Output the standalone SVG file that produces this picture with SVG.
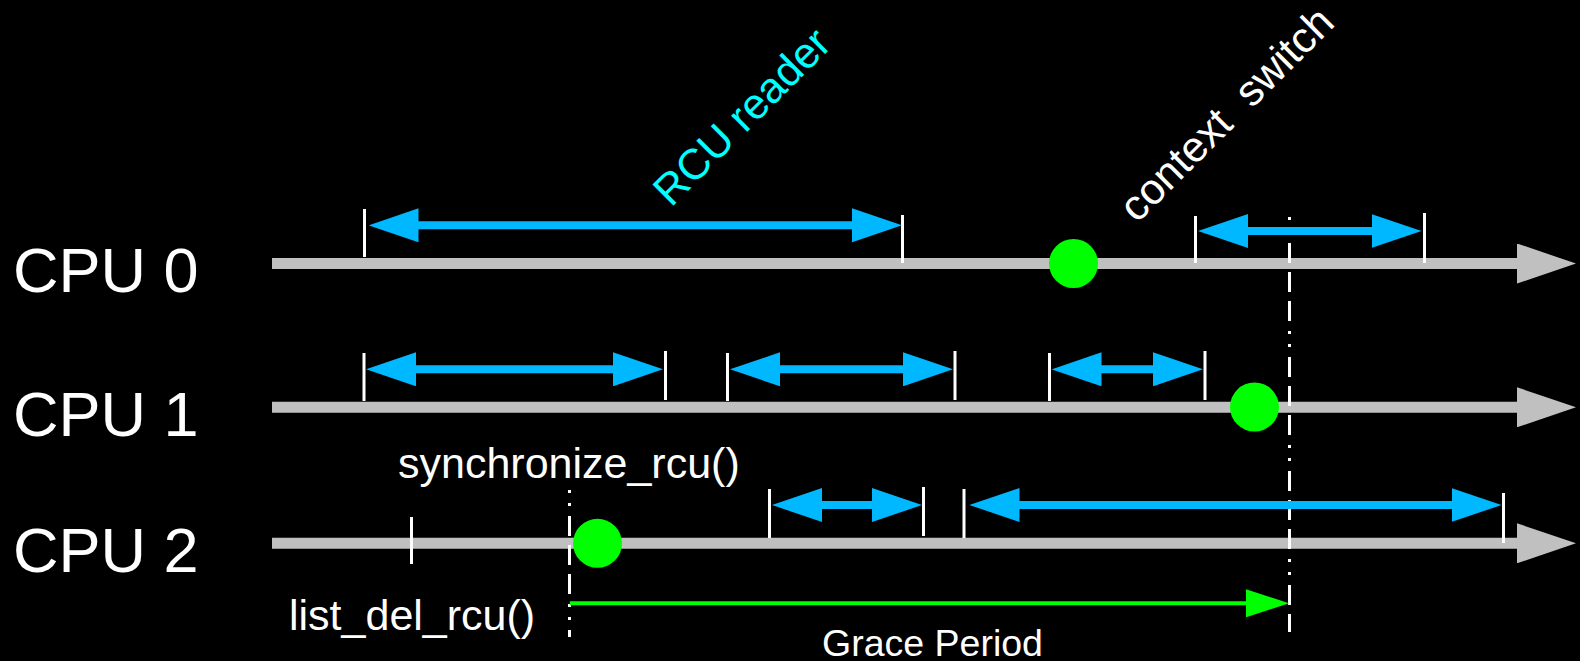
<svg xmlns="http://www.w3.org/2000/svg" width="1580" height="661" viewBox="0 0 1580 661">
  <style>
    .bg { fill: #000000; }
    .cpu { font-family: "Liberation Sans", Arial, sans-serif; font-size: 63px; fill: #ffffff; }
    .lbl { font-family: "Liberation Sans", Arial, sans-serif; font-size: 43px; fill: #ffffff; }
    .gp { font-family: "Liberation Sans", Arial, sans-serif; font-size: 37.5px; fill: #ffffff; }
    .reader-lbl { font-family: "Liberation Sans", Arial, sans-serif; font-size: 43px; fill: #00ffff; }
    .timeline { stroke: #c0c0c0; stroke-width: 11; fill: none; marker-end: url(#timeHead); }
    .tick { stroke: #ffffff; stroke-width: 3; fill: none; }
    .span { stroke: #00b8ff; stroke-width: 8; fill: none; marker-start: url(#spanHead); marker-end: url(#spanHead); }
    .qs { fill: #00ff00; }
    .gline { stroke: #ffffff; stroke-width: 3; fill: none; stroke-dasharray: 3 10 3 10 20 9 20 9 20 10; }
    .grace { stroke: #00ff00; stroke-width: 4; fill: none; marker-end: url(#graceHead); }
  </style>
  <defs>
    <marker id="timeHead" markerUnits="userSpaceOnUse" markerWidth="60" markerHeight="40" refX="1" refY="20" orient="auto">
      <path d="M0,0 L59,20 L0,40 z" fill="#c0c0c0"/>
    </marker>
    <marker id="spanHead" markerUnits="userSpaceOnUse" markerWidth="50" markerHeight="34" refX="2" refY="17" orient="auto-start-reverse">
      <path d="M0,0 L50,17 L0,34 z" fill="#00b8ff"/>
    </marker>
    <marker id="graceHead" markerUnits="userSpaceOnUse" markerWidth="43" markerHeight="28" refX="1" refY="14" orient="auto">
      <path d="M0,0 L43,14 L0,28 z" fill="#00ff00"/>
    </marker>
  </defs>

  <rect class="bg" x="0" y="0" width="1580" height="661"/>

  <!-- CPU time lines -->
  <g id="cpu0">
    <text class="cpu" x="13" y="292">CPU 0</text>
    <line class="timeline" x1="272" y1="263.5" x2="1518" y2="263.5"/>
  </g>
  <g id="cpu1">
    <text class="cpu" x="13" y="435.5">CPU 1</text>
    <line class="timeline" x1="272" y1="407.3" x2="1518" y2="407.3"/>
  </g>
  <g id="cpu2">
    <text class="cpu" x="13" y="571.5">CPU 2</text>
    <line class="timeline" x1="272" y1="543.3" x2="1518" y2="543.3"/>
  </g>

  <!-- read-side critical section boundaries -->
  <g id="cpu0-readers">
    <line class="tick" x1="364.5" y1="209" x2="364.5" y2="257"/>
    <line class="tick" x1="902.5" y1="215" x2="902.5" y2="263"/>
    <line class="tick" x1="1195.5" y1="216" x2="1195.5" y2="263"/>
    <line class="tick" x1="1424.5" y1="213" x2="1424.5" y2="263"/>
  </g>
  <g id="cpu1-readers">
    <line class="tick" x1="364" y1="353" x2="364" y2="401"/>
    <line class="tick" x1="665.5" y1="351" x2="665.5" y2="400"/>
    <line class="tick" x1="727.5" y1="353" x2="727.5" y2="401"/>
    <line class="tick" x1="955" y1="351" x2="955" y2="400"/>
    <line class="tick" x1="1049.5" y1="353" x2="1049.5" y2="401"/>
    <line class="tick" x1="1205" y1="351" x2="1205" y2="400"/>
  </g>
  <g id="cpu2-readers">
    <line class="tick" x1="411.5" y1="517" x2="411.5" y2="564"/>
    <line class="tick" x1="769.5" y1="489" x2="769.5" y2="538"/>
    <line class="tick" x1="923.5" y1="487" x2="923.5" y2="536"/>
    <line class="tick" x1="964" y1="489" x2="964" y2="538"/>
    <line class="tick" x1="1503.5" y1="493" x2="1503.5" y2="543"/>
  </g>

  <!-- quiescent states -->
  <g id="qs-cpu0"><circle class="qs" cx="1073.5" cy="263.5" r="24.5"/></g>
  <g id="qs-cpu1"><circle class="qs" cx="1254.5" cy="407" r="24.5"/></g>
  <g id="qs-cpu2"><circle class="qs" cx="597.5" cy="543.3" r="24.5"/></g>

  <!-- grace period start and end -->
  <g id="gp-start"><line class="gline" x1="569.5" y1="490" x2="569.5" y2="637"/></g>
  <g id="gp-end"><line class="gline" x1="1289.5" y1="217" x2="1289.5" y2="632"/></g>

  <!-- labels -->
  <g id="label-reader">
    <text class="reader-lbl" transform="translate(671 208) rotate(-45)">RCU reader</text>
  </g>
  <g id="label-ctxsw">
    <text class="lbl" xml:space="preserve" transform="translate(1137 224) rotate(-45)">context  switch</text>
  </g>
  <g id="label-sync">
    <text class="lbl" x="398" y="478">synchronize_rcu()</text>
  </g>
  <g id="label-del">
    <text class="lbl" x="289" y="630">list_del_rcu()</text>
  </g>
  <g id="label-gp">
    <text class="gp" x="822" y="656">Grace Period</text>
  </g>

  <!-- connectors: reader spans and grace period -->
  <g id="connectors">
    <line class="span" x1="416.5" y1="225.3" x2="854" y2="225.3"/>
    <line class="span" x1="1246" y1="231" x2="1373.5" y2="231"/>
    <line class="span" x1="414" y1="369.3" x2="615" y2="369.3"/>
    <line class="span" x1="778" y1="369.3" x2="905" y2="369.3"/>
    <line class="span" x1="1099.5" y1="369.3" x2="1155" y2="369.3"/>
    <line class="span" x1="820" y1="505" x2="874" y2="505"/>
    <line class="span" x1="1017.5" y1="505" x2="1453.5" y2="505"/>
    <line class="grace" x1="569.8" y1="603.3" x2="1247" y2="603.3"/>
  </g>
</svg>
